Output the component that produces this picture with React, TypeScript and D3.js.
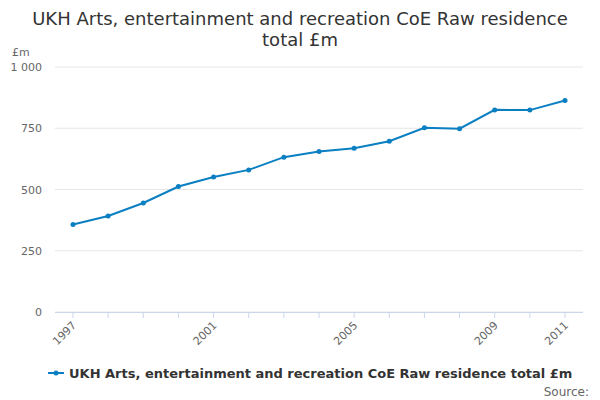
import * as d3 from "d3";

const years = [1997, 1998, 1999, 2000, 2001, 2002, 2003, 2004, 2005, 2006, 2007, 2008, 2009, 2010, 2011];
const values = [357, 392, 445, 512, 551, 580, 632, 655, 668, 697, 752, 748, 825, 824, 863];
const yTicks = [0, 250, 500, 750, 1000];
const xTicks = [1997, 2001, 2005, 2009, 2011];
const seriesName = "UKH Arts, entertainment and recreation CoE Raw residence total £m";

const W = 600, H = 400;
const color = "#0a7fc2";
const font = "'DejaVu Sans', sans-serif";

export default function App() {
  const x = d3.scaleLinear().domain([1997, 2011]).range([73, 565]);
  const y = d3.scaleLinear().domain([0, 1000]).range([312, 67]);
  const line = d3.line<number>().x((_, i) => x(years[i])).y((d) => y(d));
  const fmt = (v: number) => (v >= 1000 ? d3.format(",")(v).replace(",", " ") : String(v));

  return (
    <svg width={W} height={H} style={{ position: "absolute", left: 0, top: 0, background: "#fff" }} fontFamily={font}>
      <text x={300} y={25} textAnchor="middle" fontSize={18} fill="#333">UKH Arts, entertainment and recreation CoE Raw residence</text>
      <text x={300} y={46} textAnchor="middle" fontSize={18} fill="#333">total £m</text>
      <text x={12} y={56} fontSize={11} fill="#666">£m</text>
      {yTicks.map((t) => (
        <g key={t}>
          <line x1={55} x2={583} y1={y(t)} y2={y(t)} stroke="#e6e6e6" />
          <text x={42} y={y(t) + 4} textAnchor="end" fontSize={11} fill="#666">{fmt(t)}</text>
        </g>
      ))}
      <line x1={55} x2={583} y1={312.5} y2={312.5} stroke="#ccd6eb" />
      {years.map((yr) => (
        <line key={yr} x1={x(yr)} x2={x(yr)} y1={312} y2={318} stroke="#ccd6eb" />
      ))}
      {xTicks.map((t) => (
        <text key={t} transform={`translate(${x(t) + 4},${326}) rotate(-45)`} textAnchor="end" fontSize={11} fill="#666">{t}</text>
      ))}
      <path d={line(values) || ""} fill="none" stroke={color} strokeWidth={2} />
      {values.map((v, i) => (
        <circle key={i} cx={x(years[i])} cy={y(v)} r={2.5} fill={color} />
      ))}
      <line x1={48} x2={64} y1={373} y2={373} stroke={color} strokeWidth={2} />
      <circle cx={56} cy={373} r={2.5} fill={color} />
      <text x={69} y={378} fontSize={13} fontWeight="bold" fill="#333">{seriesName}</text>
      <text x={589} y={396} textAnchor="end" fontSize={12} fill="#666">Source:</text>
    </svg>
  );
}
